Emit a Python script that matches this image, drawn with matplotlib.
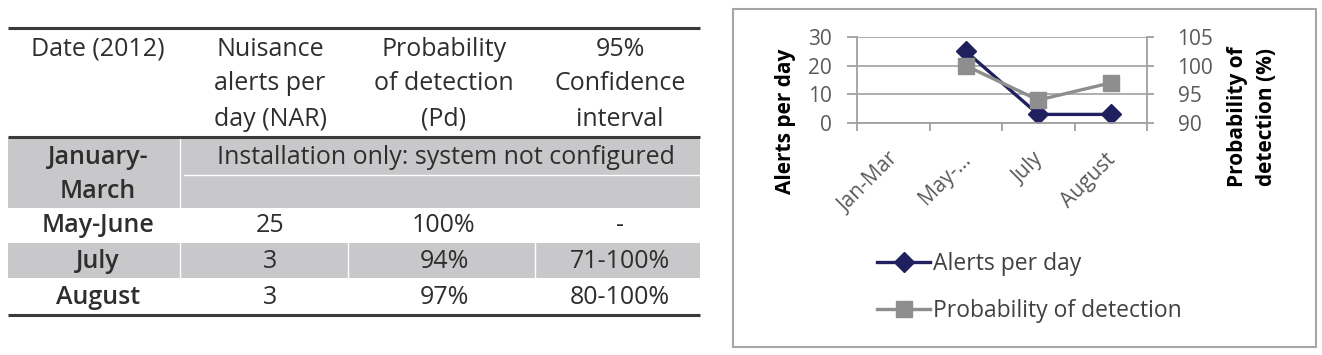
import numpy as np
import matplotlib
matplotlib.use("Agg")
import matplotlib.pyplot as plt
from matplotlib.patches import Rectangle
import matplotlib.transforms as mtransforms

plt.rcParams['font.family'] = ['Open Sans', 'DejaVu Sans']

# ---------------- data ----------------
table_header = ["Date (2012)", "Nuisance\nalerts per\nday (NAR)",
                "Probability\nof detection\n(Pd)", "95%\nConfidence\ninterval"]
table_dates = ["January-\nMarch", "May-June", "July", "August"]
table_nar = ["", "25", "3", "3"]
table_pd = ["", "100%", "94%", "97%"]
table_ci = ["", "-", "71-100%", "80-100%"]
merged_note = "Installation only: system not configured"

categories = ["Jan-Mar", "May-\u2026", "July", "August"]
alerts = [np.nan, 25, 3, 3]
prob = [np.nan, 100, 94, 97]
left_ticks = [0, 10, 20, 30]
right_ticks = [90, 95, 100, 105]

W, H = 1322, 355
fig = plt.figure(figsize=(W / 100, H / 100), dpi=100)

# ---------------- table (pixel coordinates) ----------------
ax_t = fig.add_axes([0, 0, 1, 1])
ax_t.set_xlim(0, W)
ax_t.set_ylim(H, 0)
ax_t.axis('off')

gray = '#C8C8CA'
txt = '#2E2E2E'
fs_t = 18
x0, x1 = 8, 700
col_c = [98, 270, 444, 620]
col_b = [180, 348, 535]

# gray rows
ax_t.add_patch(Rectangle((x0, 137), x1 - x0, 71, color=gray, lw=0))
ax_t.add_patch(Rectangle((x0, 243), x1 - x0, 35, color=gray, lw=0))
# white separators
ax_t.plot([col_b[0], col_b[0]], [137, 208], color='white', lw=1.0)
ax_t.plot([col_b[0] + 4, x1], [175, 175], color='white', lw=1.0)
for b in col_b:
    ax_t.plot([b, b], [243, 278], color='white', lw=1.0)
# rules
for y in (28, 137, 315):
    ax_t.plot([x0, x1], [y, y], color='#3A3A3A', lw=2.2, solid_capstyle='butt')

# header
for c, h in zip(col_c, table_header):
    lines = h.split("\n")
    for k, ln in enumerate(lines):
        ax_t.text(c, 49 + 35 * k, ln, ha='center', va='center',
                  fontsize=fs_t, color=txt)

row_y = [157, 226, 261, 297]
for i, d in enumerate(table_dates):
    lines = d.split("\n")
    for k, ln in enumerate(lines):
        ax_t.text(col_c[0], row_y[i] + 34 * k, ln, ha='center', va='center',
                  fontsize=fs_t, color=txt, fontweight='semibold')
    if i == 0:
        ax_t.text(446, row_y[i], merged_note, ha='center', va='center',
                  fontsize=fs_t, color=txt)
    else:
        for c, v in zip(col_c[1:], (table_nar[i], table_pd[i], table_ci[i])):
            ax_t.text(c, row_y[i], v, ha='center', va='center',
                      fontsize=fs_t, color=txt)

# chart border
ax_t.add_patch(Rectangle((733, 9), 1316 - 733, 347 - 9, fill=False,
                         edgecolor='#A6A6A6', lw=1.5))

# ---------------- chart ----------------
L, R, T, B = 857, 1147, 37, 123
ax = fig.add_axes([L / W, 1 - B / H, (R - L) / W, (B - T) / H])
ax2 = ax.twinx()

x = np.arange(len(categories))
navy = '#20205F'
gcol = '#8E8E8E'
ln1, = ax.plot(x, alerts, color=navy, lw=2.4, marker='D', markersize=10,
               label='Alerts per day')
ln2, = ax2.plot(x, prob, color=gcol, lw=2.4, marker='s', markersize=11.5,
                label='Probability of detection')

ax.set_xlim(-0.5, len(categories) - 0.5)
ax.set_ylim(0, 30)
ax2.set_ylim(90, 105)
ax.set_yticks(left_ticks)
ax2.set_yticks(right_ticks)
ax.yaxis.grid(True, color='#A8A8A8', lw=1.3)
ax.set_axisbelow(True)

axis_gray = '#A0A0A0'
lab_gray = '#5A5A5A'
fs_c = 15
for a in (ax, ax2):
    for s in ('top', 'left', 'right'):
        a.spines[s].set_visible(False)
    a.spines['bottom'].set_color(axis_gray)
    a.spines['bottom'].set_linewidth(1.3)
ax.spines['left'].set_visible(True)
ax.spines['left'].set_color(axis_gray)
ax.spines['left'].set_linewidth(1.3)
ax2.spines['right'].set_visible(True)
ax2.spines['right'].set_color(axis_gray)
ax2.spines['right'].set_linewidth(1.3)
ax2.spines['bottom'].set_visible(False)

ax.tick_params(axis='y', length=7, width=1.3, color=axis_gray, labelsize=fs_c,
               labelcolor=lab_gray, pad=11)
ax2.tick_params(axis='y', length=5, width=1.3, color=axis_gray, labelsize=fs_c,
                labelcolor=lab_gray, pad=17)

ax.set_xticks(x)
ax.set_xticklabels(categories)
ax.set_xticks(np.arange(-0.5, len(categories)), minor=True)
ax.tick_params(axis='x', which='major', length=0, labelsize=fs_c,
               labelcolor=lab_gray, pad=24)
ax.tick_params(axis='x', which='minor', length=6, width=1.3, color=axis_gray)
off = mtransforms.ScaledTranslation(2 / 100, 0, fig.dpi_scale_trans)
for lbl in ax.get_xticklabels():
    lbl.set_rotation(45)
    lbl.set_ha('right')
    lbl.set_va('center')
    lbl.set_rotation_mode('anchor')
    lbl.set_transform(lbl.get_transform() + off)

ax.set_ylabel('Alerts per day', fontsize=fs_c, fontweight='bold', color='black',
              va='center')
ax.yaxis.set_label_coords((786 - L) / (R - L), (B - 121) / (B - T))
ax2.set_ylabel('Probability of\ndetection (%)', fontsize=fs_c, fontweight='bold',
               color='black', rotation=90, linespacing=1.55, va='center')
ax2.yaxis.set_label_coords((1252 - L) / (R - L), (B - 117) / (B - T))

leg = fig.legend(handles=[ln1, ln2], loc='upper left',
                 bbox_to_anchor=(866 / W, 1 - 241 / H), frameon=False,
                 fontsize=16.5, handlelength=2.3, handletextpad=0.12,
                 labelspacing=1.0, borderpad=0)
for t in leg.get_texts():
    t.set_color('#404040')

fig.savefig('out.png', dpi=100)
